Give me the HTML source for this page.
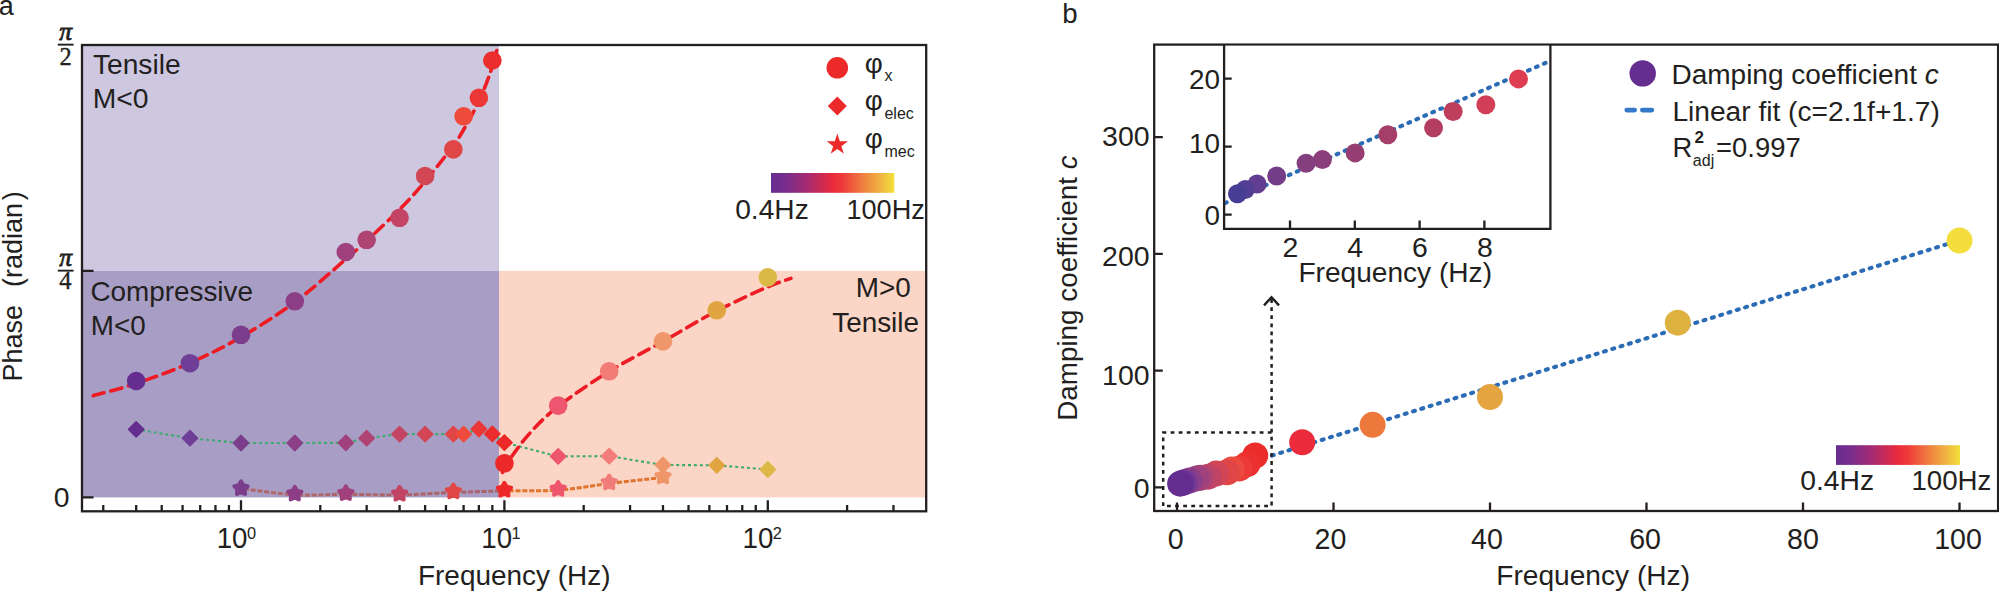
<!DOCTYPE html>
<html lang="en"><head><meta charset="utf-8"><title>Phase and damping coefficient versus frequency</title>
<style>html,body{margin:0;padding:0;background:#fff;}body{width:1999px;height:591px;overflow:hidden;}svg{display:block;}text{font-family:"Liberation Sans",Arial,Helvetica,sans-serif;fill:#231F20;}.ser{font-family:"Liberation Serif","DejaVu Serif",serif;}</style></head><body>
<svg width="1999" height="591" viewBox="0 0 1999 591">
<defs>
<linearGradient id="cbar" x1="0" y1="0" x2="1" y2="0"><stop offset="0" stop-color="#662D91"/><stop offset="0.12" stop-color="#7A2D8C"/><stop offset="0.3" stop-color="#A82B70"/><stop offset="0.5" stop-color="#EA2A3C"/><stop offset="0.58" stop-color="#EE3A3A"/><stop offset="0.75" stop-color="#EF8040"/><stop offset="0.9" stop-color="#F0B840"/><stop offset="1" stop-color="#F2E03C"/></linearGradient>
<linearGradient id="starline" gradientUnits="userSpaceOnUse" x1="241" y1="0" x2="663" y2="0"><stop offset="0" stop-color="#B0686C"/><stop offset="0.55" stop-color="#A8646A"/><stop offset="0.61" stop-color="#A8646A"/><stop offset="0.615" stop-color="#E0762F"/><stop offset="1" stop-color="#DF7433"/></linearGradient>
</defs>
<rect x="0" y="0" width="1999" height="591" fill="#ffffff"/>
<g id="panel-a">
<rect x="82" y="45" width="417" height="225.8" fill="#CDC8E0"/>
<rect x="82" y="270.8" width="417" height="226.6" fill="#A89EC5"/>
<rect x="499" y="270.8" width="427.2" height="226.6" fill="#FBD5C5"/>
<path d="M136.18 429.4 L189.95 438.2 L241 443 L294.77 443 L345.82 442.8 L366.67 438.2 L399.58 434.1 L425.11 434.1 L453.35 434.1 L463.6 434.1 L478.87 429 L492.35 433.9 L504.4 442.6 L558.17 456.4 L609.22 456.1 L662.98 465 L716.75 465.3 L767.8 469.5" fill="none" stroke="#3DAA6E" stroke-width="2.1" stroke-dasharray="3 2.9" stroke-linejoin="round"/>
<path d="M244 488.8 C252.46 489.8 277.8 493.88 294.77 494.8 C311.73 495.72 328.35 494.28 345.82 494.3 C363.29 494.32 381.66 495.2 399.58 494.9 C417.5 494.6 435.88 493.17 453.35 492.5 C470.82 491.83 486.93 491.3 504.4 490.9 C521.87 490.5 540.7 491.33 558.17 490.1 C575.63 488.87 591.75 485.6 609.22 483.5 C626.69 481.4 654.02 478.5 662.98 477.5" fill="none" stroke="url(#starline)" stroke-width="3.1" stroke-dasharray="5.1 1.7"/>
<path d="M93.2 395.7 C100.33 393.67 119.87 388.95 136 383.5 C152.13 378.05 172.5 370.75 190 363 C207.5 355.25 223.5 347.17 241 337 C258.5 326.83 277.5 315 295 302 C312.5 289 334 269.25 346 259 C358 248.75 358 248.83 367 240.5 C376 232.17 390.25 218.92 400 209 C409.75 199.08 416.67 191.5 425.5 181 C434.33 170.5 446.58 154.67 453 146 C459.42 137.33 459.67 136.5 464 129 C468.33 121.5 474.58 110.5 479 101 C483.42 91.5 487.55 80.42 490.5 72 C493.45 63.58 495.67 54.08 496.7 50.5" fill="none" stroke="#ED1C24" stroke-width="3.6" stroke-linecap="round" stroke-dasharray="11.5 6.8"/>
<path d="M502.6 472.5 C503.83 470.25 505.43 465.58 510 459 C514.57 452.42 522 441.75 530 433 C538 424.25 544.83 416.75 558 406.5 C571.17 396.25 591.5 382.33 609 371.5 C626.5 360.67 645.08 351.58 663 341.5 C680.92 331.42 699.08 320.08 716.5 311 C733.92 301.92 755.1 292.43 767.5 287 C779.9 281.57 787 279.83 790.9 278.4" fill="none" stroke="#ED1C24" stroke-width="3.6" stroke-linecap="round" stroke-dasharray="11.5 6.8"/>
<path d="M136.18 421.8 L143.78 429.4 L136.18 437 L128.58 429.4 Z" fill="#662D91" stroke="#662D91" stroke-width="1.6" stroke-linejoin="round"/>
<path d="M189.95 430.6 L197.55 438.2 L189.95 445.8 L182.35 438.2 Z" fill="#6F3E96" stroke="#6F3E96" stroke-width="1.6" stroke-linejoin="round"/>
<path d="M241 435.4 L248.6 443 L241 450.6 L233.4 443 Z" fill="#7B3E8C" stroke="#7B3E8C" stroke-width="1.6" stroke-linejoin="round"/>
<path d="M294.77 435.4 L302.37 443 L294.77 450.6 L287.17 443 Z" fill="#8C3E87" stroke="#8C3E87" stroke-width="1.6" stroke-linejoin="round"/>
<path d="M345.82 435.2 L353.42 442.8 L345.82 450.4 L338.22 442.8 Z" fill="#A0417D" stroke="#A0417D" stroke-width="1.6" stroke-linejoin="round"/>
<path d="M366.67 430.6 L374.27 438.2 L366.67 445.8 L359.07 438.2 Z" fill="#AF4473" stroke="#AF4473" stroke-width="1.6" stroke-linejoin="round"/>
<path d="M399.58 426.5 L407.18 434.1 L399.58 441.7 L391.98 434.1 Z" fill="#C34464" stroke="#C34464" stroke-width="1.6" stroke-linejoin="round"/>
<path d="M425.11 426.5 L432.71 434.1 L425.11 441.7 L417.51 434.1 Z" fill="#D24655" stroke="#D24655" stroke-width="1.6" stroke-linejoin="round"/>
<path d="M453.35 426.5 L460.95 434.1 L453.35 441.7 L445.75 434.1 Z" fill="#E14646" stroke="#E14646" stroke-width="1.6" stroke-linejoin="round"/>
<path d="M463.6 426.5 L471.2 434.1 L463.6 441.7 L456 434.1 Z" fill="#EE4B3C" stroke="#EE4B3C" stroke-width="1.6" stroke-linejoin="round"/>
<path d="M478.87 421.4 L486.47 429 L478.87 436.6 L471.27 429 Z" fill="#EC3737" stroke="#EC3737" stroke-width="1.6" stroke-linejoin="round"/>
<path d="M492.35 426.3 L499.95 433.9 L492.35 441.5 L484.75 433.9 Z" fill="#EC2D2D" stroke="#EC2D2D" stroke-width="1.6" stroke-linejoin="round"/>
<path d="M504.4 435 L512 442.6 L504.4 450.2 L496.8 442.6 Z" fill="#EC2828" stroke="#EC2828" stroke-width="1.6" stroke-linejoin="round"/>
<path d="M558.17 448.8 L565.77 456.4 L558.17 464 L550.57 456.4 Z" fill="#EE556E" stroke="#EE556E" stroke-width="1.6" stroke-linejoin="round"/>
<path d="M609.22 448.5 L616.82 456.1 L609.22 463.7 L601.62 456.1 Z" fill="#F17C78" stroke="#F17C78" stroke-width="1.6" stroke-linejoin="round"/>
<path d="M662.98 457.4 L670.58 465 L662.98 472.6 L655.38 465 Z" fill="#F0966B" stroke="#F0966B" stroke-width="1.6" stroke-linejoin="round"/>
<path d="M716.75 457.7 L724.35 465.3 L716.75 472.9 L709.15 465.3 Z" fill="#E0A540" stroke="#E0A540" stroke-width="1.6" stroke-linejoin="round"/>
<path d="M767.8 461.9 L775.4 469.5 L767.8 477.1 L760.2 469.5 Z" fill="#DCB946" stroke="#DCB946" stroke-width="1.6" stroke-linejoin="round"/>
<path d="M241 481.2 L243.29 485.14 L247.75 486.11 L244.71 489.51 L245.17 494.04 L241 492.2 L236.83 494.04 L237.29 489.51 L234.25 486.11 L238.71 485.14 Z" fill="#7B3E8C" stroke="#7B3E8C" stroke-width="3.8" stroke-linejoin="round"/>
<path d="M294.77 486.7 L297.06 490.64 L301.52 491.61 L298.47 495.01 L298.94 499.54 L294.77 497.7 L290.59 499.54 L291.06 495.01 L288.01 491.61 L292.47 490.64 Z" fill="#8C3E87" stroke="#8C3E87" stroke-width="3.8" stroke-linejoin="round"/>
<path d="M345.82 486.2 L348.11 490.14 L352.57 491.11 L349.53 494.51 L349.99 499.04 L345.82 497.2 L341.64 499.04 L342.11 494.51 L339.06 491.11 L343.53 490.14 Z" fill="#A0417D" stroke="#A0417D" stroke-width="3.8" stroke-linejoin="round"/>
<path d="M399.58 486.8 L401.87 490.74 L406.34 491.71 L403.29 495.11 L403.76 499.64 L399.58 497.8 L395.41 499.64 L395.87 495.11 L392.83 491.71 L397.29 490.74 Z" fill="#C34464" stroke="#C34464" stroke-width="3.8" stroke-linejoin="round"/>
<path d="M453.35 484.4 L455.64 488.34 L460.1 489.31 L457.06 492.71 L457.52 497.24 L453.35 495.4 L449.17 497.24 L449.64 492.71 L446.6 489.31 L451.06 488.34 Z" fill="#E14646" stroke="#E14646" stroke-width="3.8" stroke-linejoin="round"/>
<path d="M504.4 482.8 L506.69 486.74 L511.15 487.71 L508.11 491.11 L508.57 495.64 L504.4 493.8 L500.23 495.64 L500.69 491.11 L497.65 487.71 L502.11 486.74 Z" fill="#EC2828" stroke="#EC2828" stroke-width="3.8" stroke-linejoin="round"/>
<path d="M558.17 482 L560.46 485.94 L564.92 486.91 L561.87 490.31 L562.34 494.84 L558.17 493 L553.99 494.84 L554.46 490.31 L551.41 486.91 L555.87 485.94 Z" fill="#EE556E" stroke="#EE556E" stroke-width="3.8" stroke-linejoin="round"/>
<path d="M609.22 475.4 L611.51 479.34 L615.97 480.31 L612.93 483.71 L613.39 488.24 L609.22 486.4 L605.04 488.24 L605.51 483.71 L602.46 480.31 L606.93 479.34 Z" fill="#F17C78" stroke="#F17C78" stroke-width="3.8" stroke-linejoin="round"/>
<path d="M662.98 469.4 L665.27 473.34 L669.74 474.31 L666.69 477.71 L667.16 482.24 L662.98 480.4 L658.81 482.24 L659.27 477.71 L656.23 474.31 L660.69 473.34 Z" fill="#F0966B" stroke="#F0966B" stroke-width="3.8" stroke-linejoin="round"/>
<circle cx="136.18" cy="381" r="9.3" fill="#662D91"/>
<circle cx="189.95" cy="363.2" r="9.3" fill="#6F3E96"/>
<circle cx="241" cy="334.8" r="9.3" fill="#7B3E8C"/>
<circle cx="294.77" cy="301.3" r="9.3" fill="#8C3E87"/>
<circle cx="345.82" cy="252" r="9.3" fill="#A0417D"/>
<circle cx="366.67" cy="239.8" r="9.3" fill="#AF4473"/>
<circle cx="399.58" cy="217.8" r="9.3" fill="#C34464"/>
<circle cx="425.11" cy="176" r="9.3" fill="#D24655"/>
<circle cx="453.35" cy="149.4" r="9.3" fill="#E14646"/>
<circle cx="463.6" cy="116.3" r="9.3" fill="#EE4B3C"/>
<circle cx="478.87" cy="97.8" r="9.3" fill="#EC3737"/>
<circle cx="492.35" cy="60.5" r="9.3" fill="#EC2D2D"/>
<circle cx="504.4" cy="463.3" r="9.3" fill="#EC2828"/>
<circle cx="558.17" cy="405.6" r="9.3" fill="#EE556E"/>
<circle cx="609.22" cy="371.3" r="9.3" fill="#F17C78"/>
<circle cx="662.98" cy="341.4" r="9.3" fill="#F0966B"/>
<circle cx="716.75" cy="310.3" r="9.3" fill="#E0A540"/>
<circle cx="767.8" cy="277.4" r="9.3" fill="#DCB946"/>
<g stroke="#231F20" stroke-width="2.3" fill="none" stroke-linecap="butt">
<rect x="82" y="45" width="844.2" height="466.3"/>
<path d="M103.27 511.3V505M136.18 511.3V505M161.71 511.3V505M182.57 511.3V505M200.2 511.3V505M215.47 511.3V505M228.95 511.3V505M241 511.3V500.3M320.29 511.3V505M366.67 511.3V505M399.58 511.3V505M425.11 511.3V505M445.97 511.3V505M463.6 511.3V505M478.87 511.3V505M492.35 511.3V505M504.4 511.3V500.3M583.69 511.3V505M630.07 511.3V505M662.98 511.3V505M688.51 511.3V505M709.37 511.3V505M727 511.3V505M742.27 511.3V505M755.75 511.3V505M767.8 511.3V500.3M847.09 511.3V505M893.47 511.3V505M82 497.4H93.5M82 270.8H93.5"/>
</g>
<text x="216.7" y="548.3" font-size="29" textLength="30.8" lengthAdjust="spacingAndGlyphs">10</text>
<text x="246.9" y="538.9" font-size="16.4">0</text>
<text x="481.3" y="548.3" font-size="29" textLength="30.8" lengthAdjust="spacingAndGlyphs">10</text>
<text x="511.5" y="538.9" font-size="16.4">1</text>
<text x="742.5" y="548.3" font-size="29" textLength="30.8" lengthAdjust="spacingAndGlyphs">10</text>
<text x="772.7" y="538.9" font-size="16.4">2</text>
<text x="69.6" y="506.6" font-size="28.4" text-anchor="end">0</text>
<text class="ser" x="65.6" y="40" font-size="25.5" font-style="italic" text-anchor="middle" stroke="#231F20" stroke-width="0.8">π</text>
<rect x="57.8" y="43.7" width="15.8" height="1.9" fill="#231F20"/>
<text class="ser" x="65.6" y="266" font-size="25.5" font-style="italic" text-anchor="middle" stroke="#231F20" stroke-width="0.8">π</text>
<rect x="57.8" y="269.7" width="15.8" height="1.9" fill="#231F20"/>
<text x="65.6" y="65.2" font-size="24.5" text-anchor="middle" class="ser" stroke="#231F20" stroke-width="0.35">2</text>
<text x="65.4" y="288.8" font-size="24.5" text-anchor="middle" class="ser" stroke="#231F20" stroke-width="0.35">4</text>
<text x="418" y="585.2" font-size="27.6" text-anchor="start" textLength="192.5" lengthAdjust="spacingAndGlyphs">Frequency (Hz)</text>
<text transform="translate(22 381.6) rotate(-90)" font-size="27">Phase</text>
<text transform="translate(22 287.1) rotate(-90)" font-size="27">(radian<tspan dx="2.8">)</tspan></text>
<text x="-1.2" y="14.6" font-size="27" text-anchor="start">a</text>
<text x="92.9" y="73.6" font-size="28" text-anchor="start" textLength="87.8" lengthAdjust="spacingAndGlyphs">Tensile</text>
<text x="92.7" y="107.9" font-size="28.3" text-anchor="start">M&lt;0</text>
<text x="90.4" y="300.8" font-size="27.8" text-anchor="start" textLength="162.6" lengthAdjust="spacingAndGlyphs">Compressive</text>
<text x="90.8" y="334.6" font-size="27.8" text-anchor="start">M&lt;0</text>
<text x="855.8" y="297.2" font-size="27.9" text-anchor="start">M&gt;0</text>
<text x="832.2" y="331.6" font-size="27.6" text-anchor="start" textLength="86.8" lengthAdjust="spacingAndGlyphs">Tensile</text>
<circle cx="837.3" cy="67.8" r="10.8" fill="#EC2A2A"/>
<path d="M837.3 96.5 L846.8 106 L837.3 115.5 L827.8 106 Z" fill="#EC2A2A"/>
<path d="M837.3 133.6 L839.83 141.32 L847.95 141.34 L841.39 146.13 L843.88 153.86 L837.3 149.1 L830.72 153.86 L833.21 146.13 L826.65 141.34 L834.77 141.32 Z" fill="#EC2A2A"/>
<text x="864.8" y="72.5" font-size="27.8">φ<tspan font-size="16" dy="8.3" dx="1.6">x</tspan></text>
<text x="864.8" y="110" font-size="27.8">φ<tspan font-size="16" dy="9.3" dx="1.6">elec</tspan></text>
<text x="864.8" y="147.6" font-size="27.8">φ<tspan font-size="16" dy="9.2" dx="1.6">mec</tspan></text>
<rect x="771" y="173" width="123.3" height="19.8" fill="url(#cbar)"/>
<text x="735.2" y="219.2" font-size="27.4" text-anchor="start" textLength="73.6" lengthAdjust="spacingAndGlyphs">0.4Hz</text>
<text x="846.4" y="219.2" font-size="27.4" text-anchor="start" textLength="78.4" lengthAdjust="spacingAndGlyphs">100Hz</text>
</g>
<g id="panel-b">
<path d="M1255.25 460.81 L1959.5 240.25" fill="none" stroke="#2B6CB5" stroke-width="4.1" stroke-linecap="round" stroke-dasharray="2 6.7"/>
<g stroke="#231F20" stroke-width="2.5" fill="none" stroke-dasharray="3.8 4.3">
<path d="M1163.2 506.1 V432.5 H1271.6 V506.1 Z"/>
<path d="M1271.6 432.5 V299"/>
</g>
<path d="M1264 305.4 L1271.5 297.3 L1279 305.4" fill="none" stroke="#231F20" stroke-width="2.4"/>
<circle cx="1959.5" cy="240.6" r="13" fill="#F3DE3E"/>
<circle cx="1677.8" cy="322.64" r="13" fill="#DEB241"/>
<circle cx="1490" cy="396.97" r="13" fill="#E4A540"/>
<circle cx="1372.62" cy="424.87" r="13" fill="#EC783C"/>
<circle cx="1302.2" cy="442.25" r="13" fill="#EB2A3C"/>
<circle cx="1255.25" cy="455.56" r="13" fill="#EC2C2A"/>
<circle cx="1247.42" cy="463.96" r="13" fill="#EC3030"/>
<circle cx="1239.6" cy="468.39" r="13" fill="#EC3A38"/>
<circle cx="1231.78" cy="469.56" r="13" fill="#EC4A3E"/>
<circle cx="1227.08" cy="472.36" r="13" fill="#E04646"/>
<circle cx="1216.12" cy="473.53" r="13" fill="#D04656"/>
<circle cx="1208.3" cy="476.66" r="13" fill="#C04466"/>
<circle cx="1200.47" cy="477.81" r="13" fill="#AC4474"/>
<circle cx="1196.56" cy="478.43" r="13" fill="#A0417D"/>
<circle cx="1189.52" cy="480.62" r="13" fill="#8A3E88"/>
<circle cx="1184.83" cy="482" r="13" fill="#783A90"/>
<circle cx="1182.01" cy="482.94" r="13" fill="#6C3494"/>
<circle cx="1180.13" cy="483.66" r="13" fill="#662D91"/>
<g stroke="#231F20" stroke-width="2.3" fill="none">
<rect x="1154.2" y="44.6" width="843.9" height="466.4"/>
<path d="M1177 511V502.4M1333.5 511V502.4M1490 511V502.4M1646.5 511V502.4M1803 511V502.4M1959.5 511V502.4M1154.2 487.3H1162.8M1154.2 370.6H1162.8M1154.2 253.9H1162.8M1154.2 137.2H1162.8"/>
</g>
<text x="1175.8" y="548.7" font-size="28.6" text-anchor="middle">0</text>
<text x="1330.5" y="548.7" font-size="28.6" text-anchor="middle">20</text>
<text x="1487" y="548.7" font-size="28.6" text-anchor="middle">40</text>
<text x="1645.1" y="548.7" font-size="28.6" text-anchor="middle">60</text>
<text x="1802.9" y="548.7" font-size="28.6" text-anchor="middle">80</text>
<text x="1958" y="548.7" font-size="28.6" text-anchor="middle">100</text>
<text x="1149.6" y="497.5" font-size="28.5" text-anchor="end">0</text>
<text x="1149.6" y="385.2" font-size="28.5" text-anchor="end">100</text>
<text x="1149.6" y="266.1" font-size="28.5" text-anchor="end">200</text>
<text x="1149.6" y="146" font-size="28.5" text-anchor="end">300</text>
<text x="1496.3" y="585.2" font-size="27.8" text-anchor="start" textLength="193.7" lengthAdjust="spacingAndGlyphs">Frequency (Hz)</text>
<text transform="translate(1077.4 420.8) rotate(-90)" font-size="27" textLength="265.5" lengthAdjust="spacingAndGlyphs">Damping coefficient <tspan font-style="italic">c</tspan></text>
<text x="1062.3" y="22.7" font-size="27.6" text-anchor="start">b</text>
<rect x="1224.1" y="45.8" width="326.3" height="183" fill="#ffffff"/>
<path d="M1225.05 203.07 L1549.57 61.22" fill="none" stroke="#2B6CB5" stroke-width="4.1" stroke-linecap="round" stroke-dasharray="1.8 6.9"/>
<circle cx="1518.52" cy="78.9" r="9.5" fill="#DE3E52"/>
<circle cx="1485.84" cy="104.74" r="9.5" fill="#D23E55"/>
<circle cx="1453.16" cy="111.54" r="9.5" fill="#BE3E5C"/>
<circle cx="1433.55" cy="127.86" r="9.5" fill="#B43E62"/>
<circle cx="1387.8" cy="134.66" r="9.5" fill="#A53E69"/>
<circle cx="1355.12" cy="152.88" r="9.5" fill="#963E73"/>
<circle cx="1322.44" cy="159.62" r="9.5" fill="#8C3E7A"/>
<circle cx="1306.1" cy="163.22" r="9.5" fill="#853E7E"/>
<circle cx="1276.69" cy="176" r="9.5" fill="#733E87"/>
<circle cx="1257.08" cy="184.03" r="9.5" fill="#623E90"/>
<circle cx="1245.32" cy="189.47" r="9.5" fill="#533E94"/>
<circle cx="1237.47" cy="193.68" r="9.5" fill="#483E96"/>
<g stroke="#231F20" stroke-width="2.3" fill="none">
<path d="M1224.1 44.6 V228.8 H1550.4 V44.6"/>
<path d="M1290 228.8V220.6M1354.8 228.8V220.6M1419.6 228.8V220.6M1484.4 228.8V220.6M1224.1 214.6H1231.7M1224.1 146.6H1231.7M1224.1 78.6H1231.7"/>
</g>
<text x="1290.4" y="257.2" font-size="28.4" text-anchor="middle">2</text>
<text x="1355.2" y="257.2" font-size="28.4" text-anchor="middle">4</text>
<text x="1420" y="257.2" font-size="28.4" text-anchor="middle">6</text>
<text x="1484.8" y="257.2" font-size="28.4" text-anchor="middle">8</text>
<text x="1220" y="224.9" font-size="27.9" text-anchor="end">0</text>
<text x="1220" y="153.3" font-size="27.9" text-anchor="end">10</text>
<text x="1220" y="89.1" font-size="27.9" text-anchor="end">20</text>
<text x="1298.4" y="281.9" font-size="27.3" text-anchor="start" textLength="193.6" lengthAdjust="spacingAndGlyphs">Frequency (Hz)</text>
<circle cx="1642.7" cy="73.4" r="13.2" fill="#662D91"/>
<path d="M1626.8 110.1 H1634.6 M1642.4 110.1 H1651.8" fill="none" stroke="#3478C8" stroke-width="4.8" stroke-linecap="round"/>
<text x="1671.4" y="83.8" font-size="27" textLength="267.4" lengthAdjust="spacingAndGlyphs">Damping coefficient <tspan font-style="italic">c</tspan></text>
<text x="1672.4" y="121" font-size="27" text-anchor="start" textLength="267.4" lengthAdjust="spacingAndGlyphs">Linear fit (c=2.1f+1.7)</text>
<text x="1672.4" y="156.5" font-size="27.4">R<tspan font-size="17" font-weight="bold" dy="-13.4" dx="2.4">2</tspan><tspan font-size="16" dy="22.4" dx="-11.2">adj</tspan><tspan dy="-9" dx="1.9">=0.997</tspan></text>
<rect x="1836" y="445.2" width="124" height="19.7" fill="url(#cbar)"/>
<text x="1800.2" y="490.3" font-size="27" text-anchor="start" textLength="74" lengthAdjust="spacingAndGlyphs">0.4Hz</text>
<text x="1911.4" y="490.3" font-size="27" text-anchor="start" textLength="80" lengthAdjust="spacingAndGlyphs">100Hz</text>
</g>
</svg></body></html>
